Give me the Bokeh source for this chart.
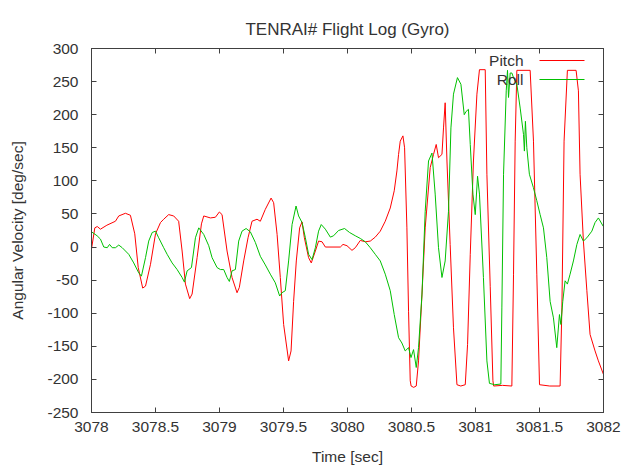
from bokeh.plotting import figure
from bokeh.models import Range1d, LinearAxis, FixedTicker, Label, Arrow
from bokeh.embed import file_html
from bokeh.resources import INLINE

title_text = "TENRAI# Flight Log (Gyro)"
x_label = "Time [sec]"
y_label = "Angular Velocity [deg/sec]"

x_ticks = [3078, 3078.5, 3079, 3079.5, 3080, 3080.5, 3081, 3081.5, 3082]
x_tick_labels = ["3078", "3078.5", "3079", "3079.5", "3080", "3080.5", "3081", "3081.5", "3082"]
y_ticks = [-250, -200, -150, -100, -50, 0, 50, 100, 150, 200, 250, 300]
y_tick_labels = ["-250", "-200", "-150", "-100", "-50", "0", "50", "100", "150", "200", "250", "300"]

pitch_t = [3078.000, 3078.026, 3078.045, 3078.070, 3078.120, 3078.187, 3078.213, 3078.265, 3078.304,
           3078.338, 3078.365, 3078.400, 3078.422, 3078.461, 3078.500, 3078.539, 3078.564, 3078.603,
           3078.642, 3078.681, 3078.708, 3078.734, 3078.767, 3078.786, 3078.825, 3078.859, 3078.877,
           3078.929, 3078.968, 3078.999, 3079.020, 3079.059, 3079.098, 3079.137, 3079.155, 3079.189,
           3079.223, 3079.254, 3079.293, 3079.319, 3079.358, 3079.403, 3079.423, 3079.450, 3079.475,
           3079.501, 3079.540, 3079.559, 3079.579, 3079.600, 3079.626, 3079.645, 3079.663, 3079.696,
           3079.717, 3079.749, 3079.774, 3079.801, 3079.827, 3079.879, 3079.944, 3079.965, 3079.996,
           3080.035, 3080.061, 3080.100, 3080.139, 3080.178, 3080.217, 3080.256, 3080.295, 3080.334,
           3080.365, 3080.386, 3080.399, 3080.412, 3080.433, 3080.446, 3080.464, 3080.477, 3080.490,
           3080.497, 3080.517, 3080.537, 3080.555, 3080.582, 3080.607, 3080.646, 3080.672, 3080.693,
           3080.711, 3080.738, 3080.750, 3080.763, 3080.777, 3080.802, 3080.828, 3080.855, 3080.885,
           3080.920, 3080.938, 3080.959, 3080.984, 3081.011, 3081.031, 3081.076, 3081.089, 3081.115,
           3081.136, 3081.142, 3081.210, 3081.284, 3081.297, 3081.310, 3081.323, 3081.427, 3081.453,
           3081.479, 3081.500, 3081.580, 3081.661, 3081.675, 3081.692, 3081.718, 3081.786, 3081.804,
           3081.817, 3081.843, 3081.870, 3081.895, 3081.934, 3081.960, 3081.999]
pitch_v = [-3, 29, 31, 27, 33, 39, 47, 51, 48,
           20, -31, -62, -59, -26, 20, 37, 42, 49,
           47, 39, -6, -56, -78, -71, -16, 35, 47,
           44, 45, 53, 49, -6, -46, -69, -61, -21,
           14, 39, 42, 39, 57, 74, 67, 19, -46,
           -117, -172, -157, -82, -21, 29, 38, 14, -16,
           -24, -6, 9, 8, 0, 0, 0, 4, 2,
           -5, -1, 10, 8, 9, 15, 24, 39, 59,
           85, 115, 140, 160, 168, 150, 29, -97, -202,
           -210, -212, -210, -172, -71, 29, 120, 140, 155,
           135, 140, 180, 218, 130, 4, -122, -208, -210,
           -208, -147, -11, 130, 231, 268, 268, 110, -60,
           -202, -210, -209, -210, -41, 160, 267, 267, 160,
           -41, -208, -210, -210, -92, 160, 267, 267, 236,
           110, 9, -66, -132, -157, -172, -192]

roll_t = [3078.000, 3078.044, 3078.070, 3078.096, 3078.123, 3078.141, 3078.162, 3078.187, 3078.213,
          3078.240, 3078.291, 3078.330, 3078.369, 3078.390, 3078.422, 3078.447, 3078.474, 3078.500,
          3078.525, 3078.564, 3078.591, 3078.630, 3078.669, 3078.708, 3078.726, 3078.747, 3078.781,
          3078.812, 3078.838, 3078.877, 3078.916, 3078.942, 3078.981, 3079.007, 3079.033, 3079.059,
          3079.077, 3079.098, 3079.124, 3079.150, 3079.176, 3079.208, 3079.241, 3079.280, 3079.319,
          3079.358, 3079.397, 3079.436, 3079.470, 3079.488, 3079.514, 3079.540, 3079.567, 3079.598,
          3079.618, 3079.645, 3079.671, 3079.696, 3079.723, 3079.749, 3079.774, 3079.795, 3079.827,
          3079.866, 3079.891, 3079.930, 3079.977, 3080.016, 3080.061, 3080.100, 3080.139, 3080.178,
          3080.217, 3080.256, 3080.295, 3080.334, 3080.365, 3080.399, 3080.425, 3080.451, 3080.477,
          3080.496, 3080.516, 3080.537, 3080.555, 3080.582, 3080.607, 3080.633, 3080.660, 3080.685,
          3080.711, 3080.738, 3080.763, 3080.789, 3080.808, 3080.828, 3080.859, 3080.886, 3080.912,
          3080.927, 3080.945, 3080.959, 3080.980, 3080.998, 3081.016, 3081.031, 3081.062, 3081.089,
          3081.109, 3081.150, 3081.198, 3081.206, 3081.219, 3081.240, 3081.250, 3081.258, 3081.271,
          3081.284, 3081.297, 3081.323, 3081.349, 3081.375, 3081.382, 3081.390, 3081.401, 3081.421,
          3081.452, 3081.479, 3081.505, 3081.531, 3081.557, 3081.583, 3081.609, 3081.635, 3081.656,
          3081.667, 3081.682, 3081.700, 3081.718, 3081.739, 3081.765, 3081.792, 3081.817, 3081.843,
          3081.870, 3081.909, 3081.934, 3081.960, 3081.999]
roll_v = [23, 17, 12, 0, -1, 4, -1, -1, 3,
          -1, -11, -24, -39, -44, -16, 9, 22, 24,
          14, -1, -11, -24, -34, -46, -53, -36, -31,
          14, 29, 19, 2, -16, -31, -34, -34, -46,
          -52, -36, -34, 9, 24, 28, 23, 7, -14,
          -27, -41, -54, -74, -69, -66, -21, 34, 62,
          47, 37, 14, -11, -19, -1, 24, 34, 27,
          15, 17, 25, 28, 22, 17, 13, 8, -1,
          -11, -21, -41, -66, -102, -137, -145, -157, -152,
          -167, -155, -182, -152, -71, 54, 130, 142, 80,
          -1, -46, -21, 54, 180, 231, 256, 246, 200,
          205, 208, 155, 80, 49, 107, 80, -46, -172,
          -206, -208, -207, -92, 110, 236, 267, 226, 263,
          263, 256, 246, 210, 170, 145, 190, 150, 110,
          90, 70, 49, 29, -16, -82, -107, -152, -102,
          -117, -82, -51, -56, -41, -21, 4, 19, 9,
          14, 24, 37, 44, 31]

series_names = ["Pitch", "Roll"]
series_colors = ["#ff0000", "#00c000"]

FONT = "Liberation Sans"
TXT = "#333333"
AX = "#404040"
FS = "15.5px"

p = figure(width=621, height=468, output_backend="svg", toolbar_location=None,
           x_range=Range1d(3078, 3082), y_range=Range1d(-250, 300),
           min_border_left=91, min_border_right=18, min_border_top=48, min_border_bottom=56,
           x_axis_label=x_label, y_axis_label=y_label)
p.background_fill_color = "white"
p.border_fill_color = "white"
p.xgrid.visible = False
p.ygrid.visible = False
p.outline_line_color = AX

p.title.text = title_text
p.title.align = "center"
p.title.text_font = FONT
p.title.text_font_size = "17px"
p.title.text_font_style = "normal"
p.title.text_color = TXT
p.title.standoff = 20
p.title.offset = 8


def style_axis(ax, ticks, show_labels):
    ax.ticker = FixedTicker(ticks=ticks)
    ax.major_tick_in = 5
    ax.major_tick_out = 0
    ax.minor_tick_line_color = None
    ax.axis_line_color = AX
    ax.major_tick_line_color = AX
    ax.major_label_text_font = FONT
    ax.major_label_text_font_size = FS if show_labels else "1px"
    ax.major_label_text_color = TXT if show_labels else None
    ax.axis_label_text_font = FONT
    ax.axis_label_text_font_size = FS
    ax.axis_label_text_font_style = "normal"
    ax.axis_label_text_color = TXT


xa = p.xaxis[0]
ya = p.yaxis[0]
style_axis(xa, x_ticks, True)
style_axis(ya, y_ticks, True)
xa.major_label_overrides = dict(zip(x_ticks, x_tick_labels))
ya.major_label_overrides = dict(zip(y_ticks, y_tick_labels))
xa.major_label_standoff = 9
xa.axis_label_standoff = 13
ya.major_label_standoff = 13
ya.axis_label_standoff = 18

top_ax = LinearAxis()
right_ax = LinearAxis()
style_axis(top_ax, x_ticks, False)
style_axis(right_ax, y_ticks, False)
top_ax.major_label_standoff = 0
right_ax.major_label_standoff = 0
p.add_layout(top_ax, "above")
p.add_layout(right_ax, "right")

p.line(pitch_t, pitch_v, line_color=series_colors[0], line_width=1)
p.line(roll_t, roll_v, line_color=series_colors[1], line_width=1)

# legend (gnuplot style: label on the left, sample line on the right), in screen units
leg_rows = [352, 333]
for name, col, yy in zip(series_names, series_colors, leg_rows):
    p.add_layout(Label(x=432, y=yy, x_units="screen", y_units="screen", text=name,
                       text_align="right", text_baseline="middle", text_font=FONT,
                       text_font_size=FS, text_color=TXT))
    p.add_layout(Arrow(x_start=448, y_start=yy, x_end=493, y_end=yy,
                       start_units="screen", end_units="screen", end=None,
                       line_color=col, line_width=1))

open("out.html", "w").write(file_html(p, INLINE))
